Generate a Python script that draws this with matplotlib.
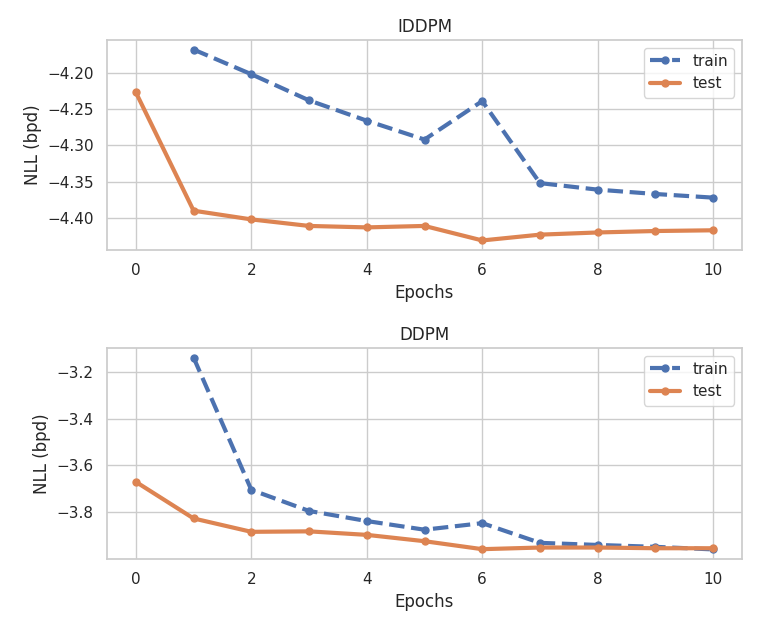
import matplotlib
matplotlib.use("Agg")
import matplotlib.pyplot as plt
import seaborn as sns
import numpy as np

sns.set_theme(style="whitegrid", palette="deep")

epochs = np.arange(11)

# IDDPM
iddpm_train = [np.nan, -4.168, -4.202, -4.238, -4.266, -4.292, -4.239, -4.352, -4.361, -4.367, -4.372]
iddpm_test = [-4.227, -4.390, -4.402, -4.411, -4.413, -4.411, -4.431, -4.423, -4.420, -4.418, -4.417]

# DDPM
ddpm_train = [np.nan, -3.140, -3.704, -3.794, -3.837, -3.874, -3.846, -3.930, -3.939, -3.947, -3.958]
ddpm_test = [-3.670, -3.826, -3.883, -3.881, -3.896, -3.923, -3.957, -3.950, -3.950, -3.953, -3.953]

fig = plt.figure(figsize=(7.61, 6.34), dpi=100)
ax1 = fig.add_axes([107 / 761, 1 - 250 / 634, 635 / 761, 210 / 634])
ax2 = fig.add_axes([107 / 761, 1 - 559 / 634, 635 / 761, 211 / 634])

for ax, train, test, title in [(ax1, iddpm_train, iddpm_test, "IDDPM"),
                               (ax2, ddpm_train, ddpm_test, "DDPM")]:
    ax.plot(epochs, train, "o--", lw=3, ms=5, label="train")
    ax.plot(epochs, test, "o-", lw=3, ms=5, label="test")
    ax.set_title(title)
    ax.set_xlabel("Epochs")
    ax.set_ylabel("NLL (bpd)")
    ax.set_xticks([0, 2, 4, 6, 8, 10])
    ax.legend(loc="upper right")

ax1.set_yticks([-4.20, -4.25, -4.30, -4.35, -4.40])
ax1.set_yticklabels(["\u22124.20", "\u22124.25", "\u22124.30", "\u22124.35", "\u22124.40"])
ax2.set_yticks([-3.2, -3.4, -3.6, -3.8])

fig.savefig("out.png", dpi=100)
